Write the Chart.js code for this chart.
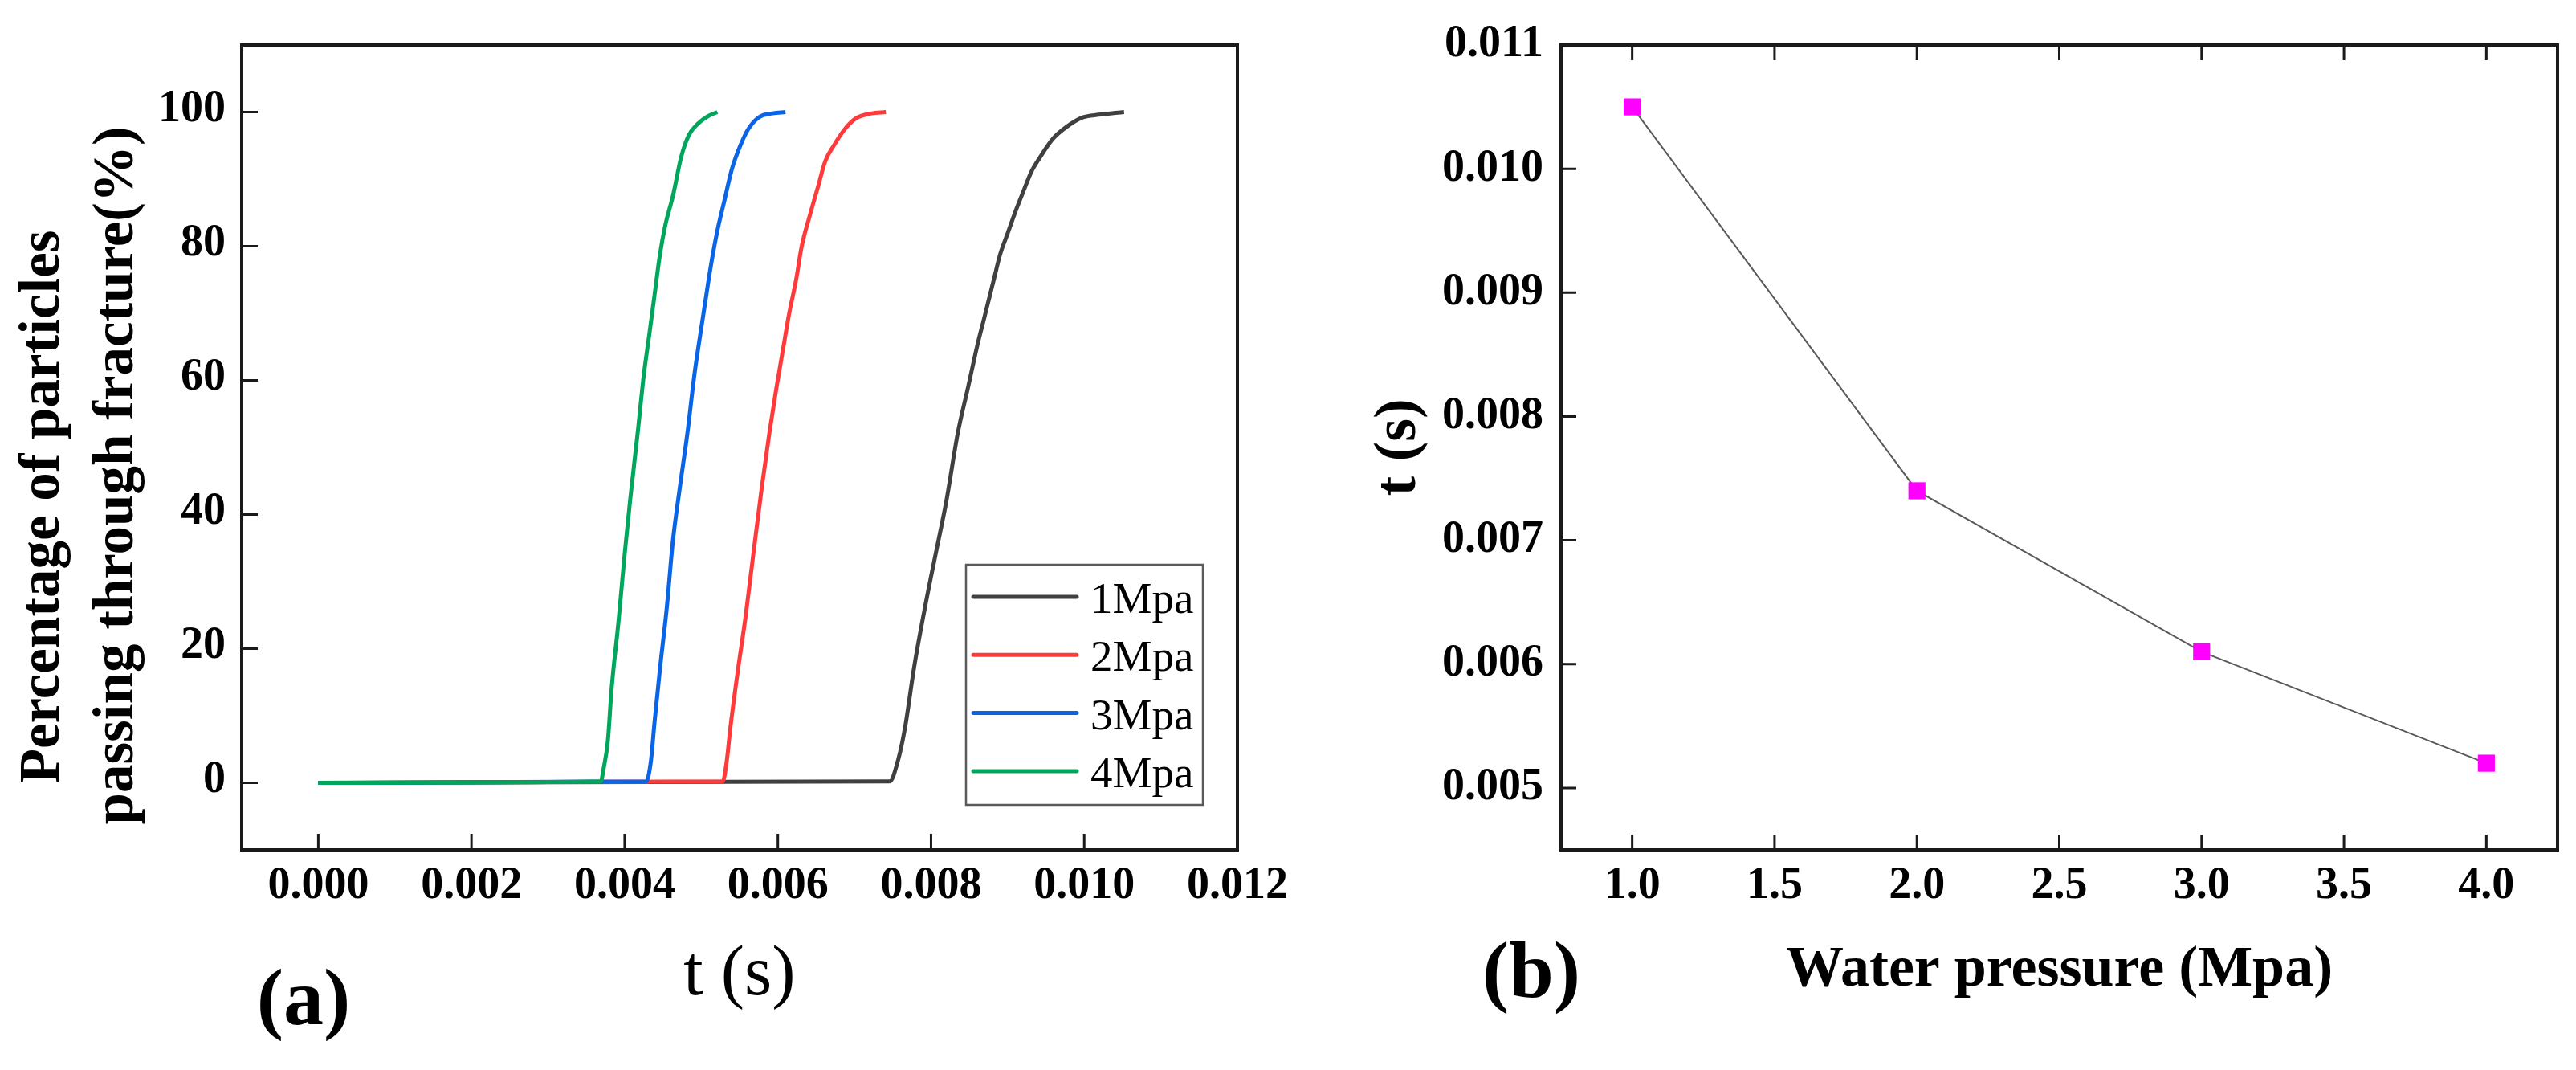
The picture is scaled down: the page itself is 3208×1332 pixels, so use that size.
<!DOCTYPE html>
<html>
<head>
<meta charset="utf-8">
<script src="https://cdn.jsdelivr.net/npm/chart.js@4.4.1/dist/chart.umd.min.js"></script>
<style>
html,body{margin:0;padding:0;background:#fff;}
#wrap{position:relative;width:3208px;height:1332px;overflow:hidden;background:#fff;}
canvas{position:absolute;top:0;}
#ca{left:0;}
#cb{left:1604px;}
</style>
</head>
<body>
<div id="wrap">
<canvas id="ca" width="1604" height="1332" style="width:1604px;height:1332px"></canvas>
<canvas id="cb" width="1604" height="1332" style="width:1604px;height:1332px"></canvas>
</div>
<script>
// ---------- DATA ----------
// Panel (a): percentage of particles passing through fracture vs time
const seriesLabels = ['1Mpa', '2Mpa', '3Mpa', '4Mpa'];
const seriesColors = ['#404040', '#ff3a3a', '#0a64e6', '#00a65c'];

const time1Mpa = [0, 0.00746, 0.00757, 0.00766, 0.00778, 0.00792, 0.00806, 0.00820, 0.00835, 0.00848, 0.00861, 0.00869, 0.00876, 0.00883, 0.00890, 0.00900, 0.00910, 0.00921, 0.00931, 0.00942, 0.00959, 0.00977, 0.00998, 0.01019, 0.01052];
const pct1Mpa  = [0, 0.2, 3.4, 8.2, 17.3, 26.1, 34.1, 42.0, 52.2, 58.8, 65.5, 69.1, 72.3, 75.5, 78.7, 81.9, 85.1, 88.3, 91.1, 93.2, 96.0, 97.8, 99.2, 99.6, 100];

const time2Mpa = [0, 0.00528, 0.00533, 0.00538, 0.00547, 0.00558, 0.00568, 0.00579, 0.00589, 0.00598, 0.00607, 0.00614, 0.00624, 0.00631, 0.00642, 0.00652, 0.00662, 0.00673, 0.00687, 0.00701, 0.00722, 0.00741];
const pct2Mpa  = [0, 0.2, 3.0, 8.2, 16.1, 24.9, 34.1, 44.0, 52.2, 58.8, 64.8, 69.5, 75.1, 79.9, 84.7, 88.7, 92.7, 95.0, 97.4, 99.0, 99.8, 100];

const time3Mpa = [0, 0.00428, 0.00434, 0.00439, 0.00446, 0.00455, 0.00463, 0.00472, 0.00482, 0.00491, 0.00498, 0.00505, 0.00512, 0.00521, 0.00530, 0.00540, 0.00551, 0.00561, 0.00575, 0.00593, 0.00610];
const pct3Mpa  = [0, 0.2, 3.0, 9.0, 16.9, 26.1, 36.1, 44.0, 52.2, 60.8, 66.3, 71.5, 76.7, 82.3, 86.7, 91.5, 95.0, 97.4, 99.2, 99.8, 100];

const time4Mpa = [0, 0.00369, 0.00372, 0.00378, 0.00383, 0.00392, 0.00400, 0.00407, 0.00417, 0.00425, 0.00432, 0.00439, 0.00446, 0.00453, 0.00463, 0.00474, 0.00484, 0.00495, 0.00509, 0.00521];
const pct4Mpa  = [0, 0.2, 1.8, 6.2, 14.1, 24.1, 34.1, 42.0, 52.2, 60.8, 66.7, 72.7, 78.7, 83.1, 87.5, 93.4, 96.6, 98.2, 99.4, 100];

const aXTicks = [0, 0.002, 0.004, 0.006, 0.008, 0.010, 0.012];
const aXTickLabels = ['0.000', '0.002', '0.004', '0.006', '0.008', '0.010', '0.012'];
const aYTicks = [0, 20, 40, 60, 80, 100];
const aYTickLabels = ['0', '20', '40', '60', '80', '100'];

// Panel (b): time vs water pressure
const pressures = [1, 2, 3, 4];
const passTimes = [0.0105, 0.0074, 0.0061, 0.0052];
const bXTicks = [1.0, 1.5, 2.0, 2.5, 3.0, 3.5, 4.0];
const bXTickLabels = ['1.0', '1.5', '2.0', '2.5', '3.0', '3.5', '4.0'];
const bYTicks = [0.005, 0.006, 0.007, 0.008, 0.009, 0.010, 0.011];
const bYTickLabels = ['0.005', '0.006', '0.007', '0.008', '0.009', '0.010', '0.011'];

// ---------- helpers ----------
const SERIF = "'Liberation Serif', 'Times New Roman', 'DejaVu Serif', serif";
Chart.defaults.color = '#000';
Chart.defaults.font.family = SERIF;

function pts(xs, ys) { return xs.map((x, i) => ({x: x, y: ys[i]})); }

const frameTicks = {
  id: 'frameTicks',
  afterDatasetsDraw(chart, args, o) {
    const {ctx, chartArea: a} = chart;
    const xs = chart.scales.x, ys = chart.scales.y;
    ctx.save();
    ctx.strokeStyle = '#1a1a1a';
    ctx.lineWidth = 3;
    ctx.beginPath();
    xs.ticks.forEach(t => {
      const p = xs.getPixelForValue(t.value);
      ctx.moveTo(p, a.bottom); ctx.lineTo(p, a.bottom - o.len);
      if (o.top) { ctx.moveTo(p, a.top); ctx.lineTo(p, a.top + o.len); }
    });
    ys.ticks.forEach(t => {
      const p = ys.getPixelForValue(t.value);
      ctx.moveTo(a.left, p); ctx.lineTo(a.left + o.len, p);
    });
    ctx.stroke();
    ctx.lineWidth = 4;
    ctx.strokeRect(a.left, a.top, a.right - a.left, a.bottom - a.top);
    ctx.restore();
  }
};

const annot = {
  id: 'annot',
  afterDraw(chart, args, o) {
    const ctx = chart.ctx;
    (o.texts || []).forEach(t => {
      ctx.save();
      ctx.font = t.font;
      ctx.fillStyle = '#000';
      ctx.textAlign = 'center';
      ctx.textBaseline = 'alphabetic';
      ctx.translate(t.x, t.y);
      if (t.rot) ctx.rotate(t.rot);
      ctx.fillText(t.text, 0, 0);
      ctx.restore();
    });
    const L = o.legend;
    if (L) {
      ctx.save();
      ctx.strokeStyle = '#5a5a5a';
      ctx.lineWidth = 2.5;
      ctx.strokeRect(L.x, L.y, L.w, L.h);
      ctx.font = L.font;
      ctx.textAlign = 'left';
      ctx.textBaseline = 'alphabetic';
      chart.data.datasets.forEach((ds, i) => {
        const y = L.row0 + i * L.step;
        ctx.strokeStyle = ds.borderColor;
        ctx.lineWidth = 5;
        ctx.lineCap = 'round';
        ctx.beginPath();
        ctx.moveTo(L.lineX0, y); ctx.lineTo(L.lineX1, y);
        ctx.stroke();
        ctx.fillStyle = '#000';
        ctx.fillText(ds.label, L.textX, y + 20);
      });
      ctx.restore();
    }
  }
};

function fixedAxis(size, ticks, horizontal) {
  return {
    afterBuildTicks: s => { s.ticks = ticks.map(v => ({value: v})); },
    afterFit: s => {
      if (horizontal) s.height = size; else s.width = size;
      s.paddingLeft = 0; s.paddingRight = 0; s.paddingTop = 0; s.paddingBottom = 0;
    }
  };
}

// ---------- Chart (a) ----------
const timeArrays = [time1Mpa, time2Mpa, time3Mpa, time4Mpa];
const pctArrays = [pct1Mpa, pct2Mpa, pct3Mpa, pct4Mpa];

new Chart(document.getElementById('ca'), {
  type: 'line',
  data: {
    datasets: seriesLabels.map((lab, i) => ({
      label: lab,
      data: pts(timeArrays[i], pctArrays[i]),
      borderColor: seriesColors[i],
      backgroundColor: seriesColors[i],
      borderWidth: 5,
      pointRadius: 0,
      cubicInterpolationMode: 'monotone',
      fill: false,
      order: seriesLabels.length - i
    }))
  },
  options: {
    responsive: false,
    devicePixelRatio: 1,
    animation: false,
    layout: {padding: {left: 0, top: 56, right: 63, bottom: 0}},
    plugins: {
      legend: {display: false},
      tooltip: {enabled: false},
      frameTicks: {len: 20, top: false},
      annot: {
        texts: [
          {text: 'Percentage of particles', font: 'bold 71px ' + SERIF, x: 73, y: 631, rot: -Math.PI / 2},
          {text: 'passing through fracture(%)', font: 'bold 71px ' + SERIF, x: 165, y: 592, rot: -Math.PI / 2},
          {text: '(a)', font: 'bold 100px ' + SERIF, x: 378, y: 1275}
        ],
        legend: {x: 1203, y: 703, w: 295, h: 299, row0: 743, step: 72.3, lineX0: 1212, lineX1: 1341, textX: 1358, font: '55px ' + SERIF}
      }
    },
    scales: {
      x: Object.assign({
        type: 'linear', min: -0.001, max: 0.012,
        grid: {display: false, drawTicks: false},
        border: {display: false},
        ticks: {font: {size: 56, weight: 'bold'}, padding: 12, autoSkip: false, maxRotation: 0,
                callback: (v, i) => aXTickLabels[i]},
        title: {display: true, text: 't (s)', font: {size: 88, weight: 'normal'}, padding: {top: 0, bottom: 64}}
      }, fixedAxis(274, aXTicks, true)),
      y: Object.assign({
        type: 'linear', min: -10, max: 110,
        grid: {display: false, drawTicks: false},
        border: {display: false},
        ticks: {font: {size: 56, weight: 'bold'}, padding: 20, autoSkip: false, labelOffset: -3,
                callback: (v, i) => aYTickLabels[i]}
      }, fixedAxis(301, aYTicks, false))
    }
  },
  plugins: [frameTicks, annot]
});

// ---------- Chart (b) ----------
new Chart(document.getElementById('cb'), {
  type: 'line',
  data: {
    datasets: [{
      label: 't (s)',
      data: pts(pressures, passTimes),
      borderColor: '#5a5a5a',
      borderWidth: 2,
      pointStyle: 'rect',
      pointRadius: 15,
      pointBorderWidth: 0,
      pointBackgroundColor: '#ff00ff',
      pointBorderColor: '#ff00ff',
      tension: 0,
      fill: false
    }]
  },
  options: {
    responsive: false,
    devicePixelRatio: 1,
    animation: false,
    layout: {padding: {left: 0, top: 56, right: 23, bottom: 0}},
    plugins: {
      legend: {display: false},
      tooltip: {enabled: false},
      frameTicks: {len: 19, top: true},
      annot: {
        texts: [
          {text: '(b)', font: 'bold 100px ' + SERIF, x: 303, y: 1241}
        ]
      }
    },
    scales: {
      x: Object.assign({
        type: 'linear', min: 0.75, max: 4.25,
        grid: {display: false, drawTicks: false},
        border: {display: false},
        ticks: {font: {size: 56, weight: 'bold'}, padding: 12, autoSkip: false, maxRotation: 0,
                callback: (v, i) => bXTickLabels[i]},
        title: {display: true, text: 'Water pressure (Mpa)', font: {size: 72, weight: 'bold'}, padding: {top: 0, bottom: 80}}
      }, fixedAxis(274, bXTicks, true)),
      y: Object.assign({
        type: 'linear', min: 0.0045, max: 0.011,
        grid: {display: false, drawTicks: false},
        border: {display: false},
        ticks: {font: {size: 56, weight: 'bold'}, padding: 22, autoSkip: false,
                callback: (v, i) => bYTickLabels[i]},
        title: {display: true, text: 't (s)', font: {size: 74, weight: 'bold'}, padding: {top: 94, bottom: 0}}
      }, fixedAxis(340, bYTicks, false))
    }
  },
  plugins: [frameTicks, annot]
});
</script>
</body>
</html>
